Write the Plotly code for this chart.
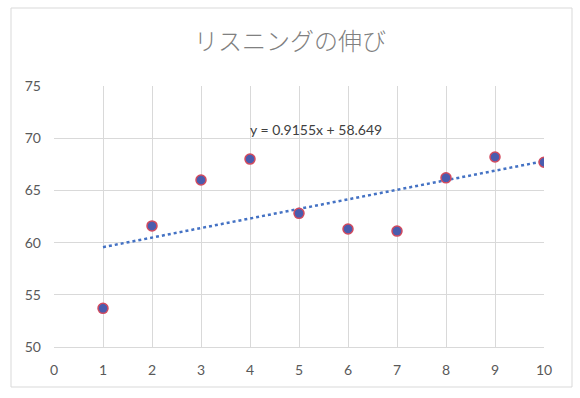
import plotly.graph_objects as go

x_vals = [1, 2, 3, 4, 5, 6, 7, 8, 9, 10]
y_vals = [53.7, 61.6, 66.0, 68.0, 62.8, 61.3, 61.1, 66.2, 68.2, 67.7]
trend_slope = 0.9155
trend_intercept = 58.649
title_text = "リスニングの伸び"
eq_text = "y = 0.9155x + 58.649"
x_ticks = list(range(0, 11))
y_ticks = [50, 55, 60, 65, 70, 75]

trend_x = [x_vals[0], x_vals[-1]]
trend_y = [trend_slope * v + trend_intercept for v in trend_x]

fig = go.Figure()
fig.add_trace(go.Scatter(
    x=trend_x, y=trend_y, mode="lines",
    line=dict(color="#4472C4", width=2.5, dash="dot"),
    hoverinfo="skip", showlegend=False,
))
fig.add_trace(go.Scatter(
    x=x_vals, y=y_vals, mode="markers",
    marker=dict(size=10, color="#4a5cae", line=dict(color="#d24a5e", width=1.5)),
    showlegend=False,
))

fig.add_annotation(
    x=5.35, y=70.8, text=eq_text, showarrow=False,
    font=dict(family="Lato, Liberation Sans, sans-serif", size=14, color="#404040"),
    xanchor="center", yanchor="middle",
)

L, R, T, B = 54, 544, 86, 347
W, H = R - L, B - T
fig.add_shape(
    type="rect", xref="paper", yref="paper",
    x0=(11 - L) / W, x1=(572 - L) / W,
    y0=(B - 387) / H, y1=(B - 8) / H,
    line=dict(color="#d9d9d9", width=1), fillcolor="rgba(0,0,0,0)", layer="below",
)

fig.update_layout(
    width=580, height=398,
    margin=dict(l=L, r=580 - R, t=T, b=398 - B),
    paper_bgcolor="white", plot_bgcolor="white",
    title=dict(
        text=title_text, x=0.5, xanchor="center", y=1 - 42 / 398, yanchor="middle",
        font=dict(family="Noto Sans CJK JP", size=24, color="#808080", weight=300),
    ),
    xaxis=dict(
        range=[0, 10], tickvals=x_ticks, showgrid=True, gridcolor="#d9d9d9", gridwidth=1,
        zeroline=False, showline=True, linecolor="#d9d9d9", linewidth=1, ticks="",
        ticklabelstandoff=10,
        tickfont=dict(family="Lato, Liberation Sans, sans-serif", size=14, color="#595959"),
        fixedrange=True,
    ),
    yaxis=dict(
        range=[50, 75], tickvals=y_ticks, showgrid=True, gridcolor="#d9d9d9", gridwidth=1,
        zeroline=False, showline=False, ticks="",
        ticklabelstandoff=12,
        tickfont=dict(family="Lato, Liberation Sans, sans-serif", size=14, color="#595959"),
        fixedrange=True,
    ),
)

fig.write_html(
    "out.html",
    config={"displayModeBar": False},
    post_script="document.body.style.margin='0';",
)
